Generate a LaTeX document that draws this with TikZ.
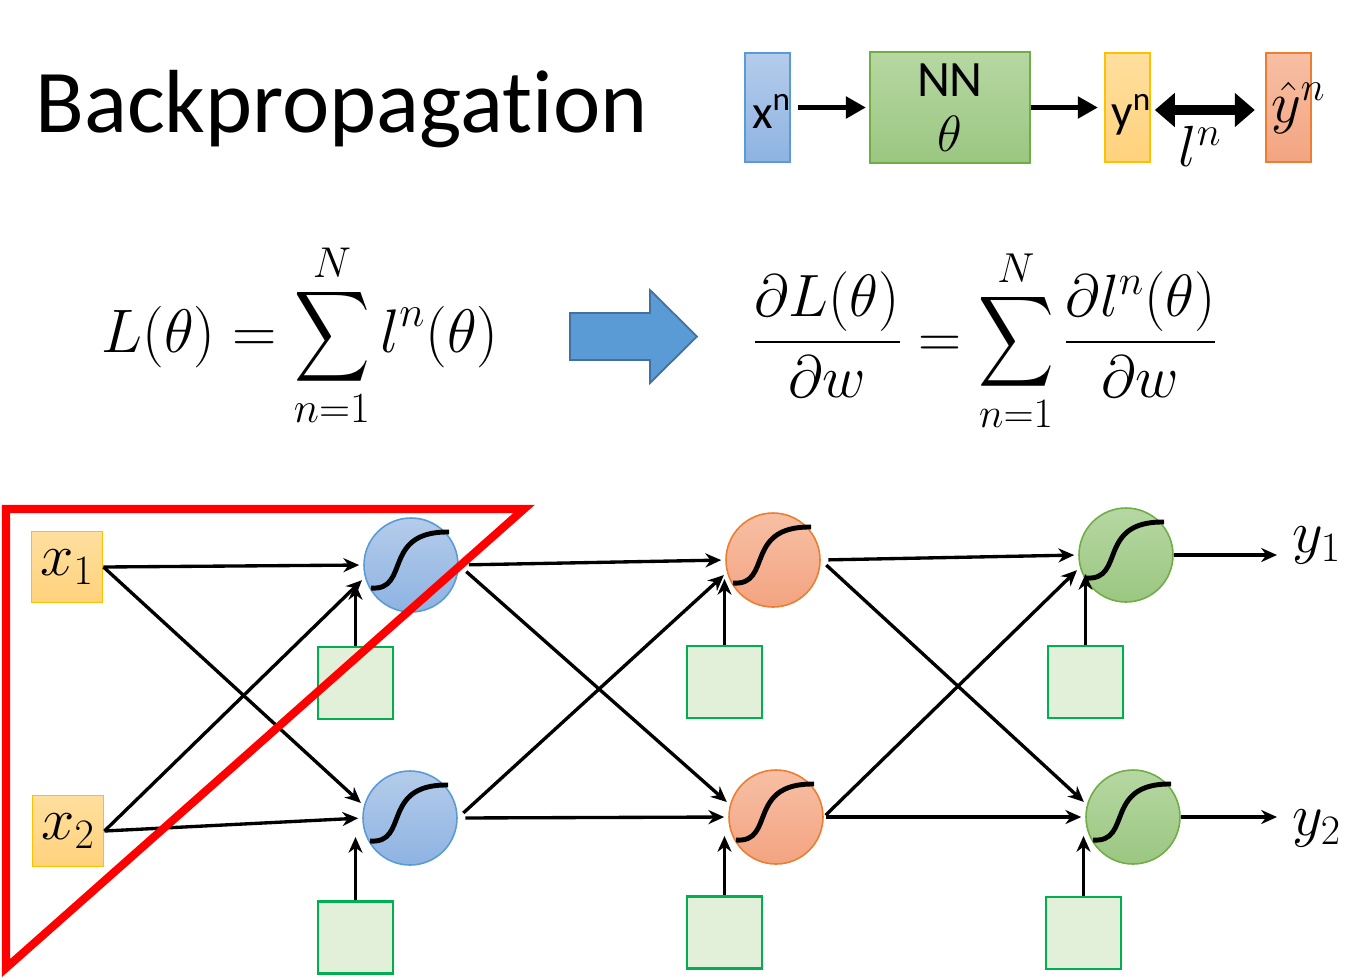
\documentclass[tikz,border=0pt]{standalone}
\usepackage{fix-cm}
\usepackage{amsmath}
\usepackage{graphicx}
\usepackage[no-math]{fontspec}
\setmainfont{Carlito}[Ligatures=NoCommon]
\usepackage{tikz}
\usetikzlibrary{calc, positioning, arrows.meta}

\definecolor{azulborde}{HTML}{5B9BD5}
\definecolor{azulclaro}{HTML}{B4CCEA}
\definecolor{azuloscuro}{HTML}{8EB3E2}
\definecolor{azulflecha}{HTML}{5B9BD5}
\definecolor{azulfborde}{HTML}{41719C}
\definecolor{naranjaborde}{HTML}{ED7D31}
\definecolor{naranjaclaro}{HTML}{F7BFA4}
\definecolor{naranjaoscuro}{HTML}{F3A481}
\definecolor{verdeborde}{HTML}{70AD47}
\definecolor{verdeclaro}{HTML}{B6D7A2}
\definecolor{verdeoscuro}{HTML}{9BC781}
\definecolor{amarilloborde}{HTML}{FFC000}
\definecolor{amarilloclaro}{HTML}{FFDF9E}
\definecolor{amarillooscuro}{HTML}{FFD27C}
\definecolor{sesgoborde}{HTML}{00B050}
\definecolor{sesgofondo}{HTML}{E2F0D9}
\definecolor{rojo}{HTML}{FF0000}

\newcommand{\sumagrande}{\mathop{\vcenter{\hbox{\scalebox{1.2}[1.45]{$\displaystyle\sum$}}}}\limits}

\begin{document}
\begin{tikzpicture}[node distance=1.5cm,
	caja/.style={draw, line width=1.1pt, minimum width=0.9cm, minimum height=2.18cm, inner sep=0pt},
	texto/.style={font=\fontsize{27}{30}\selectfont, inner sep=0pt},
	entrada/.style={draw=amarilloborde, line width=1.1pt, top color=amarilloclaro, bottom color=amarillooscuro,
		minimum size=1.42cm, inner sep=0pt, font=\fontsize{34}{38}\selectfont},
	neurona/.style={circle, draw, line width=0.9pt, minimum size=1.88cm, inner sep=0pt},
	sesgo/.style={draw=sesgoborde, fill=sesgofondo, line width=1.2pt, minimum width=1.5cm, minimum height=1.44cm},
	conex/.style={-{Stealth[length=9pt,width=8pt]}, line width=1.9pt},
	gruesa/.style={-{Triangle[length=0.4cm,width=0.42cm]}, line width=3.4pt},
	sigm/.pic={\draw[line width=2.8pt] (-0.8,-0.46) .. controls (0.0,-0.52) and (-0.6,0.68) .. (0.76,0.66);}
	]
	\useasboundingbox (0,0) rectangle (27.1,-19.56);
	% titulo %
	\node[anchor=base west, font=\fontsize{51}{56}\selectfont, inner sep=0pt] (titulo) at (0.7,-2.64) {Backpropagation};
	% nodos arriba %
	\node[caja, draw=azulborde, top color=azulclaro, bottom color=azuloscuro] (xn) at (15.35,-2.15) {};
	\node[caja, right=1.56cm of xn, minimum width=3.2cm, minimum height=2.22cm, draw=verdeborde,
		top color=verdeclaro, bottom color=verdeoscuro, texto, font=\fontsize{29}{31}\selectfont, align=center] (nn) {NN\\$\theta$};
	\node[caja, right=1.46cm of nn, draw=amarilloborde, top color=amarilloclaro, bottom color=amarillooscuro] (yn) {};
	\node[caja, right=2.28cm of yn, draw=naranjaborde, top color=naranjaclaro, bottom color=naranjaoscuro] (yh) {};
	\node[texto] (xnlab) at ([xshift=0.08cm, yshift=-0.08cm]xn.center) {x\textsuperscript{n}};
	\node[texto] (ynlab) at ([xshift=0.08cm, yshift=-0.14cm]yn.center) {y\textsuperscript{n}};
	\node[texto, font=\fontsize{33}{36}\selectfont] (yhlab) at ([xshift=0.2cm, yshift=0.0cm]yh.center) {$\hat{y}^n$};
	\node[texto, font=\fontsize{33}{36}\selectfont] (ln) at (24.0,-2.92) {$l^n$};
	% conexiones arriba %
	\draw[gruesa, shorten <=0.14cm, shorten >=0.06cm] (xn.east) -- (nn.west);
	\draw[gruesa, shorten >=0.12cm] (nn.east) -- (yn.west);
	\draw[{Triangle[length=0.4cm,width=0.66cm]}-{Triangle[length=0.4cm,width=0.66cm]}, line width=5.5pt,
		shorten <=0.08cm, shorten >=0.2cm] ([yshift=-0.05cm]yn.east) -- ([yshift=-0.05cm]yh.west);
	% formulas %
	\node[anchor=base, font=\fontsize{35}{40}\selectfont] (perdida) at (6.0,-7.04)
		{$\displaystyle L(\theta) = \sumagrande_{n=1}^{N} l^n(\theta)$};
	\draw[fill=azulflecha, draw=azulfborde, line width=1pt] (11.4,-6.26) -- (13.0,-6.26) -- (13.0,-5.8)
		-- (13.94,-6.73) -- (13.0,-7.66) -- (13.0,-7.2) -- (11.4,-7.2) -- cycle;
	\node[anchor=base, font=\fontsize{34}{40}\selectfont] (gradiente) at (19.7,-7.14)
		{$\displaystyle \frac{\partial L(\theta)}{\partial w} = \sumagrande_{n=1}^{N} \frac{\partial l^n(\theta)}{\partial w}$};
	% red %
	\node[entrada] (x1) at (1.34,-11.34) {$x_1$};
	\node[entrada] (x2) at (1.36,-16.62) {$x_2$};
	\node[neurona, draw=azulborde, top color=azulclaro, bottom color=azuloscuro] (h11) at (8.22,-11.3) {};
	\node[neurona, draw=azulborde, top color=azulclaro, bottom color=azuloscuro] (h12) at (8.2,-16.36) {};
	\node[neurona, draw=naranjaborde, top color=naranjaclaro, bottom color=naranjaoscuro] (h21) at (15.46,-11.2) {};
	\node[neurona, draw=naranjaborde, top color=naranjaclaro, bottom color=naranjaoscuro] (h22) at (15.52,-16.34) {};
	\node[neurona, draw=verdeborde, top color=verdeclaro, bottom color=verdeoscuro] (h31) at (22.52,-11.1) {};
	\node[neurona, draw=verdeborde, top color=verdeclaro, bottom color=verdeoscuro] (h32) at (22.66,-16.34) {};
	\node[sesgo] (b11) at (7.11,-13.66) {};
	\node[sesgo] (b12) at (7.11,-18.75) {};
	\node[sesgo] (b21) at (14.49,-13.64) {};
	\node[sesgo] (b22) at (14.49,-18.65) {};
	\node[sesgo] (b31) at (21.71,-13.64) {};
	\node[sesgo] (b32) at (21.67,-18.66) {};
	\node[anchor=west, inner sep=0pt, font=\fontsize{34}{38}\selectfont] (y1) at (25.84,-10.9) {$y_1$};
	\node[anchor=west, inner sep=0pt, font=\fontsize{34}{38}\selectfont] (y2) at (25.84,-16.56) {$y_2$};
	\pic at (h11) {sigm};
	\pic at (h12) {sigm};
	\pic at (h21) {sigm};
	\pic at (h22) {sigm};
	\pic at (h31) {sigm};
	\pic at (h32) {sigm};
	% conexiones red %
	\draw[conex, shorten >=0.08cm] (x1.east) -- (h11.west);
	\draw[conex, shorten >=0.08cm] (x1.east) -- (h12.165);
	\draw[conex, shorten >=0.08cm] (x2.east) -- (h11.195);
	\draw[conex, shorten >=0.08cm] (x2.east) -- (h12.west);
	\draw[conex, shorten <=0.2cm, shorten >=0.08cm] (h11.east) -- (h21.west);
	\draw[conex, shorten <=0.2cm, shorten >=0.08cm] (h11.east) -- (h22.165);
	\draw[conex, shorten <=0.15cm, shorten >=0.08cm] (h12.east) -- (h21.195);
	\draw[conex, shorten <=0.15cm, shorten >=0.08cm] (h12.east) -- (h22.west);
	\draw[conex, shorten <=0.15cm, shorten >=0.08cm] (h21.east) -- (h31.west);
	\draw[conex, shorten <=0.15cm, shorten >=0.08cm] (h21.east) -- (h32.165);
	\draw[conex, shorten <=0.05cm, shorten >=0.08cm] (h22.east) -- (h31.195);
	\draw[conex, shorten <=0.05cm, shorten >=0.08cm] (h22.east) -- (h32.west);
	\draw[conex] (b11.north) -- ($(b11.north |- h11.center)+(0,-0.38)$);
	\draw[conex] (b12.north) -- ($(b12.north |- h12.center)+(0,-0.38)$);
	\draw[conex] (b21.north) -- ($(b21.north |- h21.center)+(0,-0.38)$);
	\draw[conex] (b22.north) -- ($(b22.north |- h22.center)+(0,-0.38)$);
	\draw[conex] (b31.north) -- ($(b31.north |- h31.center)+(0,-0.38)$);
	\draw[conex] (b32.north) -- ($(b32.north |- h32.center)+(0,-0.38)$);
	\draw[conex, shorten >=0.3cm] (h31.east) -- (h31.east -| y1.west);
	\draw[conex, shorten >=0.3cm] (h32.east) -- (h32.east -| y2.west);
	% triangulo rojo %
	\draw[rojo, line width=4.6pt] (0.12,-10.18) -- (10.48,-10.18) -- (0.12,-19.36) -- cycle;
\end{tikzpicture}
\end{document}
